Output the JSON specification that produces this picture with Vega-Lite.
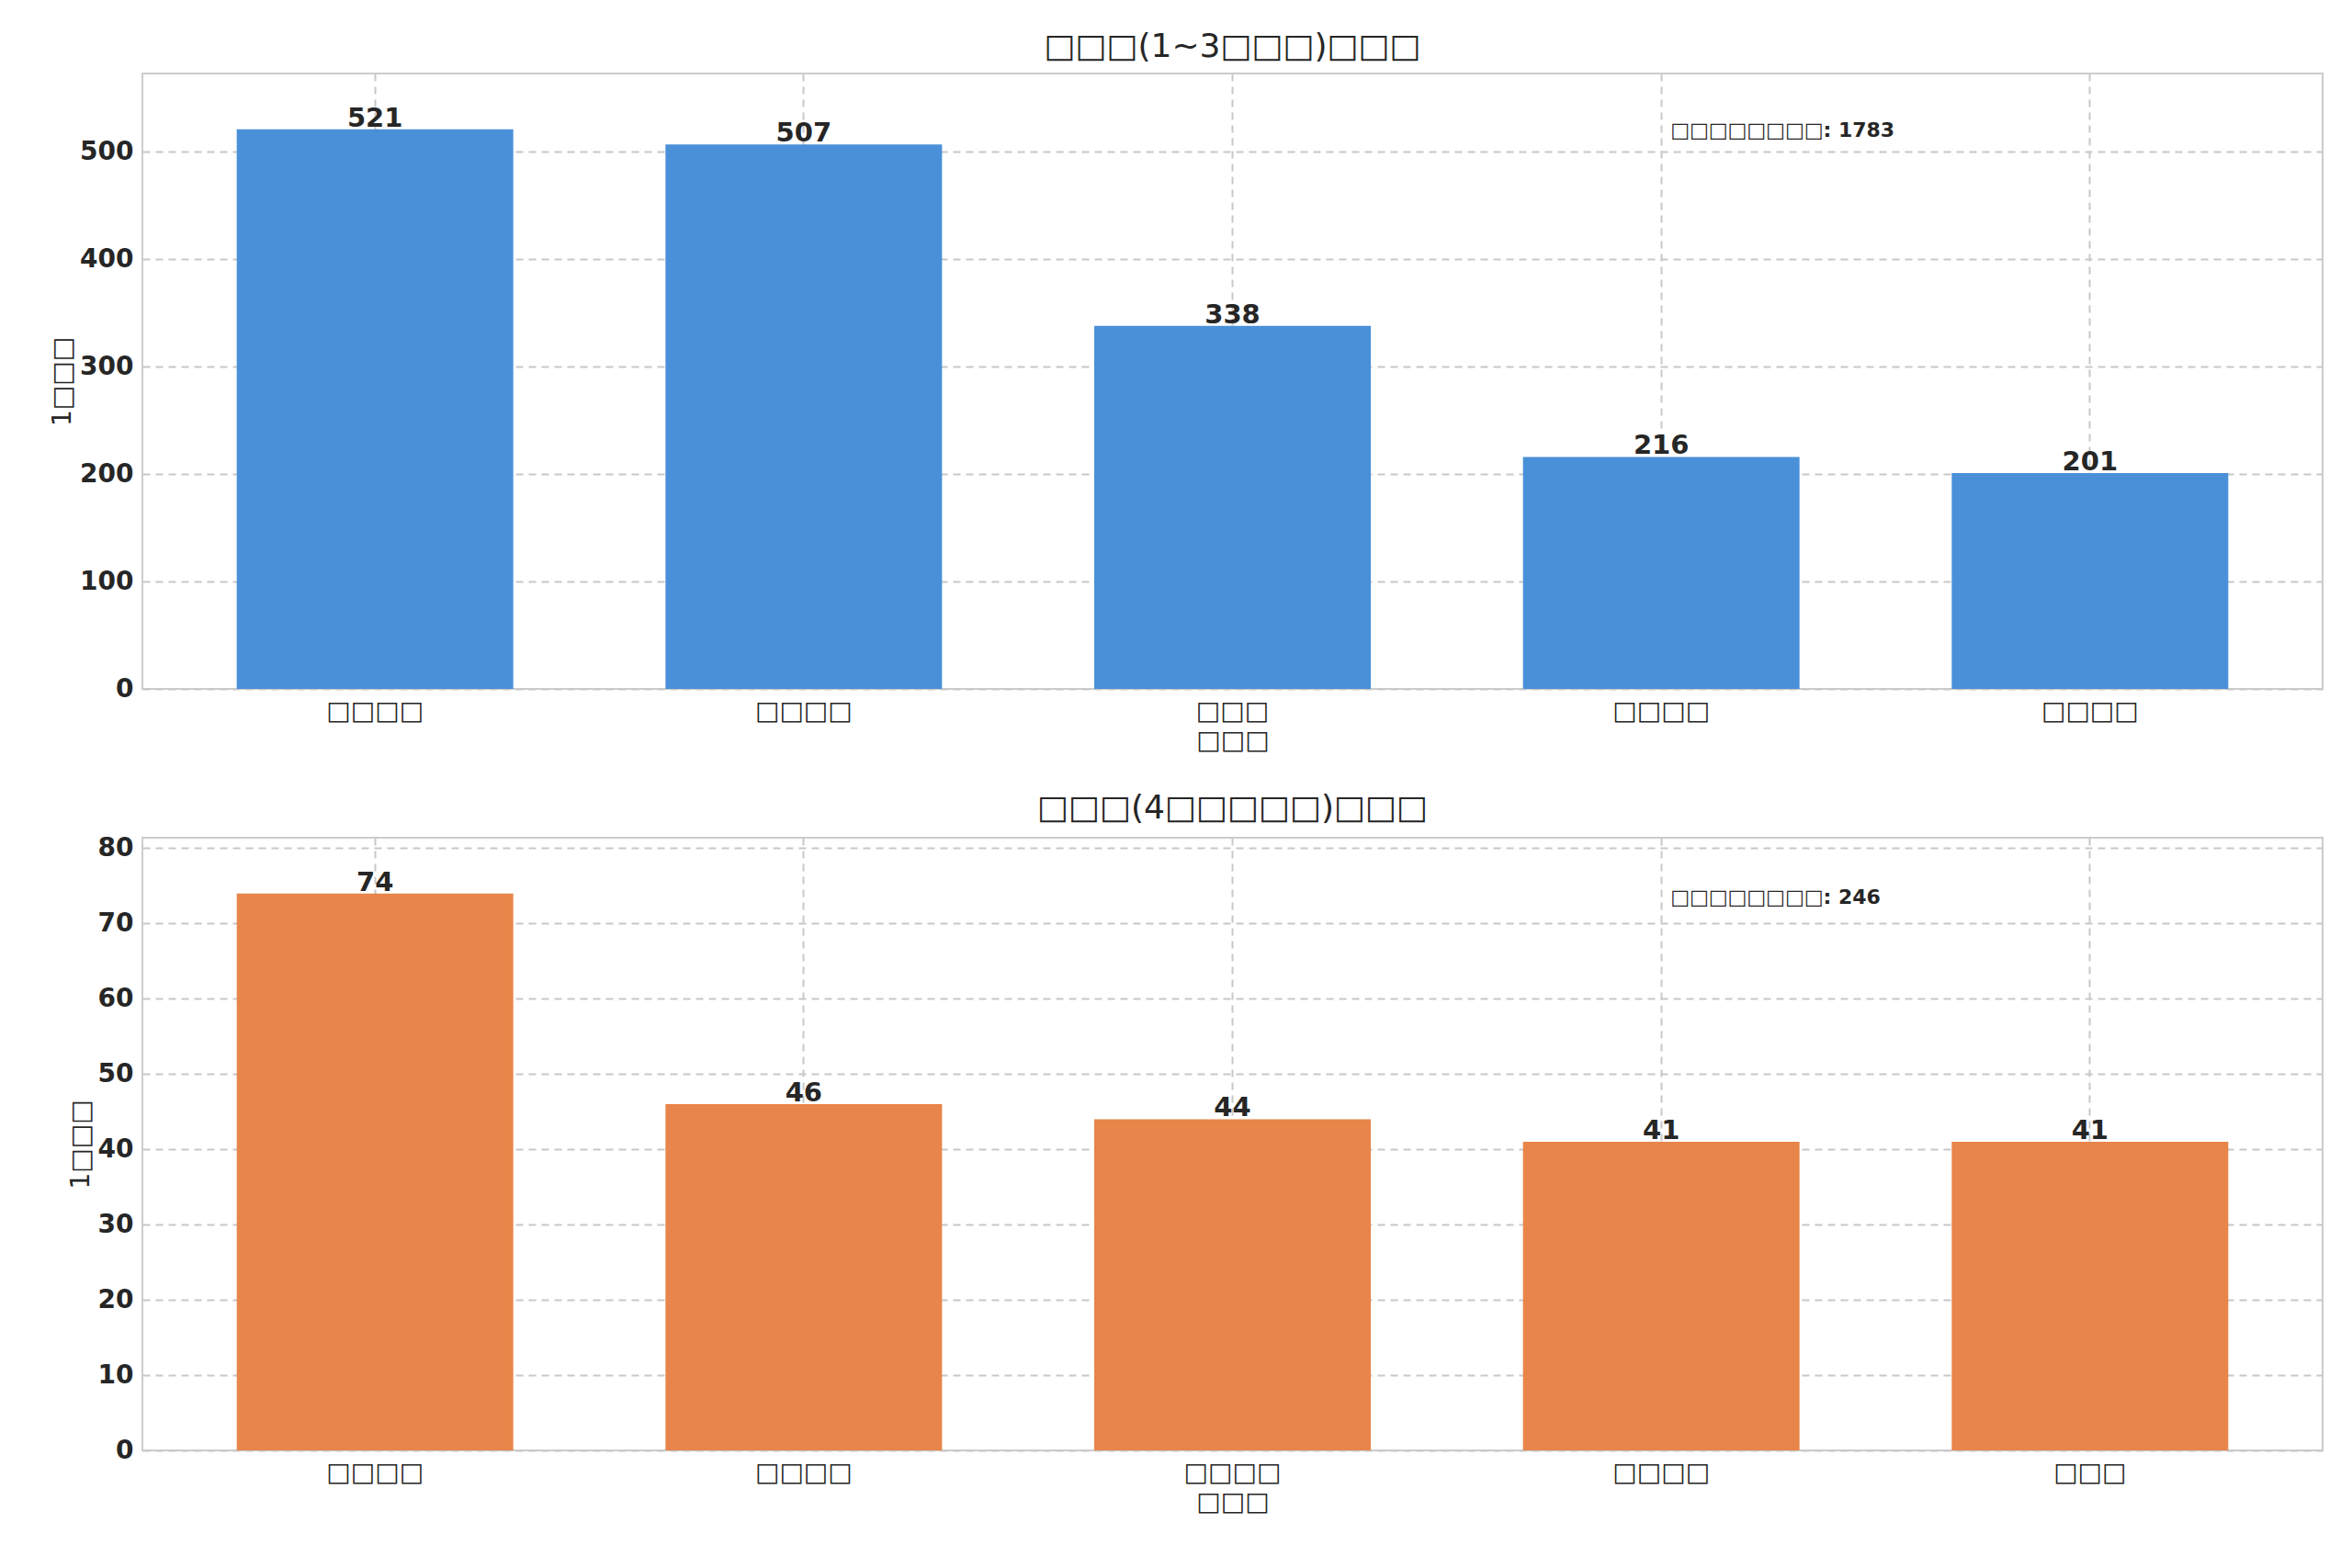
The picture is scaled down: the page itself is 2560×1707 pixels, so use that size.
{
  "$schema": "https://vega.github.io/schema/vega-lite/v6.json",
  "background": "white",
  "padding": {"left": 53, "top": 32, "right": 10, "bottom": 10},
  "config": {
    "font": "DejaVu Sans",
    "view": {"stroke": "#cccccc", "strokeWidth": 2},
    "axis": {
      "grid": true, "gridDash": [8, 6], "gridColor": "#c8c8c8", "gridWidth": 2,
      "domain": false, "ticks": false,
      "labelFontSize": 28, "labelColor": "#262626", "titleFontSize": 28,
      "titleColor": "#262626", "titleFontWeight": "normal", "labelPadding": 10
    },
    "title": {"fontSize": 36, "fontWeight": "normal", "color": "#262626", "offset": 10},
    "concat": {"spacing": 40}
  },
  "vconcat": [
    {
      "title": "□□□(1~3□□□)□□□",
      "width": 2373, "height": 670,
      "data": {"values": [
        {"rank": 0, "label": "□□□□", "count": 521},
        {"rank": 1, "label": "□□□□", "count": 507},
        {"rank": 2, "label": "□□□", "count": 338},
        {"rank": 3, "label": "□□□□", "count": 216},
        {"rank": 4, "label": "□□□□", "count": 201}
      ]},
      "encoding": {
        "x": {"field": "rank", "type": "ordinal", "title": "□□□",
          "scale": {"paddingInner": 0.355, "paddingOuter": 0.22},
          "axis": {"labelAngle": 0, "labelExpr": "['□□□□','□□□□','□□□','□□□□','□□□□'][datum.value]"}},
        "y": {"field": "count", "type": "quantitative", "title": "1□□□",
          "scale": {"domain": [0, 573], "nice": false},
          "axis": {"values": [0, 100, 200, 300, 400, 500], "labelFontWeight": "bold"}}
      },
      "layer": [
        {"mark": {"type": "bar", "color": "#4a90d9"}},
        {"mark": {"type": "text", "dy": -12, "fontSize": 29, "fontWeight": "bold", "color": "#262626"},
         "encoding": {"text": {"field": "count"}}},
        {"data": {"values": [{"rank": 3, "y": 520, "t": "□□□□□□□□: 1783"}]},
         "mark": {"type": "text", "align": "left", "dx": 10, "fontSize": 22, "fontWeight": "bold", "color": "#262626"},
         "encoding": {"x": {"field": "rank", "type": "ordinal"}, "y": {"field": "y", "type": "quantitative"}, "text": {"field": "t"}}}
      ]
    },
    {
      "title": "□□□(4□□□□□)□□□",
      "width": 2373, "height": 667,
      "data": {"values": [
        {"rank": 0, "label": "□□□□", "count": 74},
        {"rank": 1, "label": "□□□□", "count": 46},
        {"rank": 2, "label": "□□□□", "count": 44},
        {"rank": 3, "label": "□□□□", "count": 41},
        {"rank": 4, "label": "□□□", "count": 41}
      ]},
      "encoding": {
        "x": {"field": "rank", "type": "ordinal", "title": "□□□",
          "scale": {"paddingInner": 0.355, "paddingOuter": 0.22},
          "axis": {"labelAngle": 0, "labelExpr": "['□□□□','□□□□','□□□□','□□□□','□□□'][datum.value]"}},
        "y": {"field": "count", "type": "quantitative", "title": "1□□□",
          "scale": {"domain": [0, 81.4], "nice": false},
          "axis": {"values": [0, 10, 20, 30, 40, 50, 60, 70, 80], "labelFontWeight": "bold"}}
      },
      "layer": [
        {"mark": {"type": "bar", "color": "#e8854a"}},
        {"mark": {"type": "text", "dy": -12, "fontSize": 29, "fontWeight": "bold", "color": "#262626"},
         "encoding": {"text": {"field": "count"}}},
        {"data": {"values": [{"rank": 3, "y": 73.5, "t": "□□□□□□□□: 246"}]},
         "mark": {"type": "text", "align": "left", "dx": 10, "fontSize": 22, "fontWeight": "bold", "color": "#262626"},
         "encoding": {"x": {"field": "rank", "type": "ordinal"}, "y": {"field": "y", "type": "quantitative"}, "text": {"field": "t"}}}
      ]
    }
  ]
}
